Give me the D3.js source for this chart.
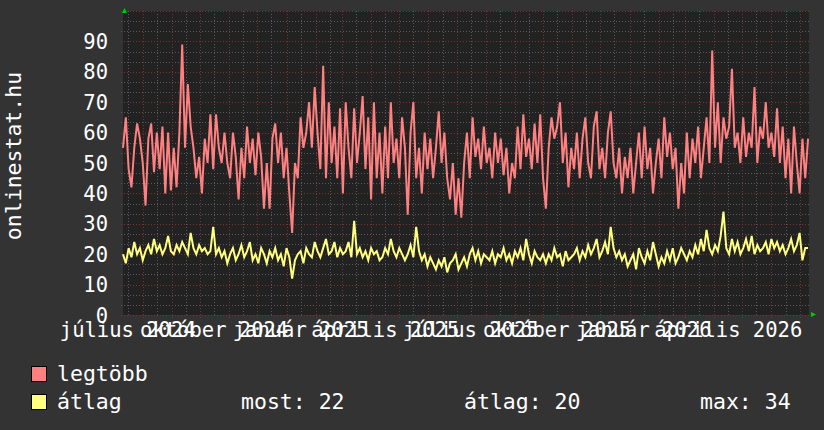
<!DOCTYPE html>
<html>
<head>
<meta charset="utf-8">
<script src="https://cdn.jsdelivr.net/npm/d3@7"></script>
<style>
  html, body { margin: 0; padding: 0; background: #333333; }
  svg { display: block; font-family: "DejaVu Sans Mono", monospace; }
</style>
</head>
<body>
<svg id="chart" width="824" height="430"></svg>
<script>
// Data: one sample every 3 days, from 2024-07-11
const startDate = new Date(2024, 6, 11);
const endDate = new Date(2026, 6, 11);
const stepDays = 3;

// legtöbb (max) series
const legtobb = [
  55,65,48,42,55,63,58,50,36,58,
  63,47,60,48,62,40,60,41,55,42,
  60,89,55,76,62,55,45,52,40,58,
  50,66,48,66,55,50,60,50,45,60,
  52,38,55,45,62,50,58,46,60,52,
  35,50,35,58,63,50,60,45,55,40,
  27,50,45,65,55,60,70,55,75,60,
  48,82,45,70,50,62,45,68,40,70,
  55,45,68,50,60,72,48,65,38,70,
  45,60,40,62,45,70,50,58,45,65,
  55,33,60,70,45,55,40,60,48,58,
  45,55,67,50,60,45,38,50,33,45,
  32,50,60,45,65,52,58,48,62,50,
  55,45,60,50,58,46,55,40,50,45,
  62,48,66,52,58,48,63,50,66,45,
  35,55,65,58,62,70,50,60,42,55,
  48,60,45,58,65,50,45,62,67,48,
  55,45,60,67,50,45,55,40,52,45,
  55,40,50,60,45,62,48,55,40,50,
  58,45,65,52,60,48,55,35,50,40,
  60,45,58,50,62,45,55,65,50,87,
  55,70,50,65,58,62,81,55,60,50,
  65,52,60,55,75,50,62,58,70,55,
  60,52,68,50,62,45,58,40,62,50,
  40,58,45,58
];

// átlag (average) series
const atlag = [
  20,17,22,19,24,20,22,18,21,23,
  20,25,21,23,20,22,26,21,20,23,
  21,24,22,20,27,22,20,23,21,22,
  20,21,29,20,22,19,21,17,20,22,
  18,20,23,19,21,24,18,20,17,22,
  20,17,21,19,22,18,20,16,22,19,
  12,18,20,21,17,22,20,19,24,21,
  19,22,25,20,21,24,19,22,20,21,
  24,19,31,20,22,19,21,18,22,20,
  21,18,19,22,20,25,21,19,22,20,
  18,20,23,19,29,21,18,20,16,19,
  17,15,18,16,19,14,17,18,20,15,
  17,19,16,20,22,18,21,17,20,19,
  18,21,17,20,19,22,18,20,17,21,
  19,22,18,25,20,17,21,19,18,20,
  17,20,18,22,19,20,16,21,18,19,
  20,22,18,21,19,23,20,22,25,19,
  21,24,20,29,22,19,21,18,20,16,
  18,20,15,22,19,17,21,18,24,20,
  16,19,17,21,18,22,17,19,22,20,
  18,21,19,23,20,25,21,28,22,20,
  23,21,26,34,22,20,25,21,24,20,
  22,25,21,26,20,23,21,22,24,20,
  25,22,24,21,23,20,22,25,21,23,
  27,18,22,22
];

const yTicks = [0, 10, 20, 30, 40, 50, 60, 70, 80, 90];
const xLabels = ["július 2024", "október 2024", "január 2025", "április 2025",
                 "július 2025", "október 2025", "január 2026", "április 2026"];
const seriesNames = ["legtöbb", "átlag"];
const seriesColors = ["#ff8080", "#ffff80"];
const statLabels = ["most: 22", "átlag: 20", "max: 34"];

const svg = d3.select("#chart");
const W = 824, H = 430;
const plot = { left: 123, right: 809, top: 11, bottom: 315 };

const x = d3.scaleTime().domain([startDate, endDate]).range([plot.left, plot.right]);
const y = d3.scaleLinear().domain([0, 100]).range([plot.bottom, plot.top]);

// backgrounds
svg.append("rect").attr("width", W).attr("height", H).attr("fill", "#333333");
svg.append("rect")
  .attr("x", plot.left).attr("y", plot.top)
  .attr("width", plot.right - plot.left).attr("height", plot.bottom - plot.top)
  .attr("fill", "#222222");

const grid = svg.append("g").attr("shape-rendering", "crispEdges");

// minor horizontal grid (every 10/3)
const yMinor = d3.range(0, 101, 10 / 3).filter((v) => Math.abs(v % 10) > 0.01 && Math.abs(v % 10 - 10) > 0.01);
grid.selectAll(".hmin").data(yMinor).join("line")
  .attr("x1", plot.left - 2).attr("x2", plot.right)
  .attr("y1", (d) => Math.round(y(d)) + 0.5).attr("y2", (d) => Math.round(y(d)) + 0.5)
  .attr("stroke", "#5a5a5a").attr("stroke-dasharray", "1,2");

// minor vertical grid: mid-month
const midMonths = d3.timeMonth.range(d3.timeMonth.floor(startDate), endDate)
  .map((d) => new Date(d.getFullYear(), d.getMonth(), 16))
  .filter((d) => d >= startDate && d <= endDate);
grid.selectAll(".vmin").data(midMonths).join("line")
  .attr("x1", (d) => Math.round(x(d)) + 0.5).attr("x2", (d) => Math.round(x(d)) + 0.5)
  .attr("y1", plot.top).attr("y2", plot.bottom + 2)
  .attr("stroke", "#5a5a5a").attr("stroke-dasharray", "1,2");

// major horizontal grid
grid.selectAll(".hmaj").data(yTicks.concat([100])).join("line")
  .attr("x1", plot.left - 2).attr("x2", plot.right)
  .attr("y1", (d) => Math.round(y(d)) + 0.5).attr("y2", (d) => Math.round(y(d)) + 0.5)
  .attr("stroke", "#7a3333").attr("stroke-dasharray", "1,2");

// major vertical grid: month starts
const months = d3.timeMonth.range(startDate, endDate);
grid.selectAll(".vmaj").data(months).join("line")
  .attr("x1", (d) => Math.round(x(d)) + 0.5).attr("x2", (d) => Math.round(x(d)) + 0.5)
  .attr("y1", plot.top).attr("y2", plot.bottom + 3)
  .attr("stroke", "#7a3333").attr("stroke-dasharray", "1,2");

// lines
const dateAt = (i) => d3.timeDay.offset(startDate, i * stepDays);
const line = d3.line().x((d, i) => x(dateAt(i))).y((d) => y(d));
[legtobb, atlag].forEach((s, k) => {
  svg.append("path").datum(s)
    .attr("d", line)
    .attr("fill", "none")
    .attr("stroke", seriesColors[k])
    .attr("stroke-width", 2)
    .attr("stroke-linejoin", "miter");
});

// arrows
svg.append("path").attr("d", "M122,13L124.5,8L127,13Z").attr("fill", "#00cc00");
svg.append("path").attr("d", "M811,312L816,314.5L811,317Z").attr("fill", "#00cc00");

// y tick labels
svg.append("g").selectAll("text").data(yTicks).join("text")
  .attr("x", 108).attr("y", (d) => y(d) + 7.5)
  .attr("text-anchor", "end")
  .attr("fill", "#ffffff").attr("font-size", 20.5)
  .text((d) => d);

// x labels every 3 months, centred mid-month
const labelDates = d3.timeMonth.every(3).range(new Date(2024, 6, 1), new Date(2026, 5, 1))
  .map((d) => new Date(d.getFullYear(), d.getMonth(), 16));
svg.append("g").selectAll("text").data(labelDates).join("text")
  .attr("x", (d) => x(d))
  .attr("y", 337)
  .attr("text-anchor", "middle")
  .attr("fill", "#ffffff").attr("font-size", 20.5)
  .text((d, i) => xLabels[i]);

// vertical title
svg.append("text")
  .attr("transform", "translate(21,156) rotate(-90)")
  .attr("text-anchor", "middle")
  .attr("fill", "#ffffff").attr("font-size", 21.5)
  .text("onlinestat.hu");

// legend
const legend = svg.append("g");
seriesNames.forEach((name, k) => {
  const ly = 366 + k * 28;
  legend.append("rect")
    .attr("x", 31.5).attr("y", ly + 0.5).attr("width", 15).attr("height", 15)
    .attr("fill", seriesColors[k]).attr("stroke", "#000000");
  legend.append("text")
    .attr("x", 57).attr("y", ly + 15)
    .attr("fill", "#ffffff").attr("font-size", 21.5)
    .text(name);
});
const statX = [241, 464, 700];
legend.selectAll(".stat").data(statLabels).join("text")
  .attr("x", (d, i) => statX[i]).attr("y", 366 + 28 + 15)
  .attr("fill", "#ffffff").attr("font-size", 21.5)
  .text((d) => d);
</script>
</body>
</html>
